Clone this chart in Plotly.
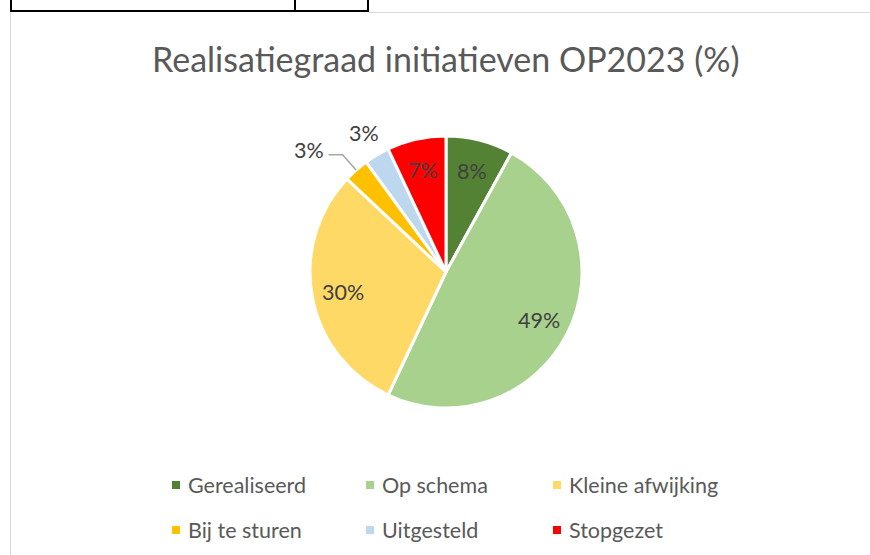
import math
import plotly.graph_objects as go

categories = ["Gerealiseerd", "Op schema", "Kleine afwijking", "Bij te sturen", "Uitgesteld", "Stopgezet"]
values = [8, 49, 30, 3, 3, 7]
colors = ["#548235", "#A9D18E", "#FFD966", "#FFC000", "#BDD7EE", "#FF0000"]
title_text = "Realisatiegraad initiatieven OP2023 (%)"

W, H = 870, 555
CX, CY, R = 446, 272, 136  # pie centre / radius in pixels
FONT = "Lato, Open Sans, sans-serif"

def px(x):
    return x / W

def py(y):
    return 1 - y / H

fig = go.Figure()
fig.add_trace(go.Pie(
    labels=categories, values=values, sort=False, direction="clockwise", rotation=0,
    marker=dict(colors=colors, line=dict(color="white", width=3)),
    textinfo="none", hoverinfo="label+percent", showlegend=False,
    domain=dict(x=[px(CX - R), px(CX + R)], y=[py(CY + R), py(CY - R)]),
))

annotations = []
shapes = []
label_font = dict(family=FONT, size=21.5, color="#404040")

def ann(x, y, text, font, xanchor="center"):
    annotations.append(dict(x=px(x), y=py(y), xref="paper", yref="paper", text=text,
                            showarrow=False, font=font, xanchor=xanchor, yanchor="middle"))

total = sum(values)
cum = 0
label_mode = ["in", "in", "in", "leader", "out", "in"]
for v, mode in zip(values, label_mode):
    mid = (cum + v / 2) / total * 2 * math.pi
    cum += v
    s, c = math.sin(mid), math.cos(mid)
    txt = f"{round(v / total * 100)}%"
    if mode == "in":
        r = 0.77 * R
        ann(CX + r * s, CY - r * c, txt, label_font)
    elif mode == "out":
        r = 1.19 * R
        ann(CX + r * s, CY - r * c, txt, label_font)
    else:
        ex, ey = CX + R * s, CY - R * c
        bx, by = CX + 1.15 * R * s, CY - 1.15 * R * c
        hx = bx - 14
        shapes.append(dict(type="path", xref="paper", yref="paper",
                           path=f"M {px(ex)} {py(ey)} L {px(bx)} {py(by)} L {px(hx)} {py(by)}",
                           line=dict(color="#A6A6A6", width=1.5)))
        ann(hx - 3, by - 5, txt, label_font, xanchor="right")

# title
ann(446, 58, title_text, dict(family=FONT, size=34, color="#595959"))

# custom legend (3 columns x 2 rows)
col_x = [172, 366, 553]
row_y = [485, 530]
for i, (cat, col) in enumerate(zip(categories, colors)):
    x0 = col_x[i % 3]
    y0 = row_y[i // 3]
    shapes.append(dict(type="rect", xref="paper", yref="paper",
                       x0=px(x0), x1=px(x0 + 8), y0=py(y0 + 4), y1=py(y0 - 4),
                       fillcolor=col, line=dict(width=0)))
    ann(x0 + 14, y0, cat, dict(family=FONT, size=21.5, color="#595959"), xanchor="left")

# chart area border and table fragment at the top
shapes.append(dict(type="line", xref="paper", yref="paper", x0=px(10.5), x1=px(10.5), y0=py(12), y1=0,
                   line=dict(color="#D9D9D9", width=1)))
shapes.append(dict(type="line", xref="paper", yref="paper", x0=px(369), x1=1, y0=py(12.5), y1=py(12.5),
                   line=dict(color="#D9D9D9", width=1)))
shapes.append(dict(type="line", xref="paper", yref="paper", x0=px(10), x1=px(369), y0=py(11), y1=py(11),
                   line=dict(color="#000000", width=2)))
for xv in [11, 295, 368]:
    shapes.append(dict(type="line", xref="paper", yref="paper", x0=px(xv), x1=px(xv), y0=py(11), y1=1,
                       line=dict(color="#000000", width=2)))

fig.update_layout(
    width=W, height=H, margin=dict(l=0, r=0, t=0, b=0),
    paper_bgcolor="white", plot_bgcolor="white",
    annotations=annotations, shapes=shapes,
)

fig.write_html("out.html")
